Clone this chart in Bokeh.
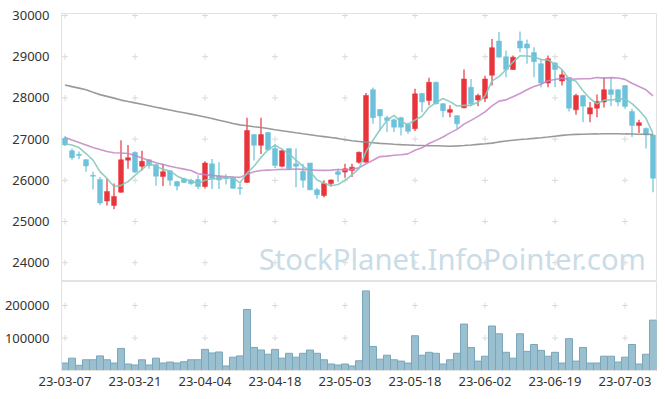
from bokeh.plotting import figure
from bokeh.layouts import column
from bokeh.models import FixedTicker, NumeralTickFormatter, Label, Range1d
from bokeh.embed import file_html
from bokeh.resources import INLINE

# ---------------- data ----------------
opens = [27020, 26720, 26630, 26500, 26120, 26020, 25500, 25390, 25710, 26490,
         26680, 26340, 26500, 26380, 26090, 26230, 25970, 26040, 26000, 26020,
         25850, 26400, 26100, 26080, 26080, 25820, 25950, 27110, 26850, 27160,
         26770, 26340, 26770, 26400, 26220, 26420, 25770, 25630, 25920, 26210,
         26200, 26240, 26440, 26440, 28200, 27720, 27520, 27470, 27520, 27360,
         27250, 28110, 27940, 28380, 27860, 27650, 27570, 27760, 28260, 27950,
         27990, 28550, 29380, 29000, 28690, 29380, 29310, 29100, 28830, 28360,
         28850, 28410, 28500, 27710, 28060, 27610, 27750, 27900, 28200, 28200,
         28300, 27670, 27330, 27260, 27100]
highs = [27070, 26770, 26700, 26520, 26210, 26080, 26050, 25920, 26970, 26860,
         26700, 26720, 26510, 26400, 26400, 26240, 25990, 26060, 26040, 26120,
         26460, 26520, 26440, 26150, 26090, 25920, 27520, 27120, 27520, 27170,
         26890, 26740, 26770, 26770, 26400, 26420, 25820, 26000, 26020, 26280,
         26400, 26400, 26700, 28120, 28250, 27730, 27570, 27500, 27540, 27400,
         28220, 28120, 28490, 28390, 27870, 27820, 27580, 28690, 28460, 28100,
         28540, 29430, 29600, 29150, 29030, 29610, 29420, 29230, 28950, 29030,
         28870, 28670, 28510, 28100, 28070, 27900, 28080, 28500, 28500, 28210,
         28310, 27740, 27470, 27280, 27110]
lows = [26830, 26500, 26520, 26210, 25780, 25400, 25390, 25300, 25700, 26280,
        26180, 26240, 26280, 25870, 25860, 25870, 25750, 25930, 25890, 25790,
        25800, 25790, 25790, 25900, 25790, 25650, 25940, 26480, 26640, 26720,
        26300, 26320, 26260, 25830, 25820, 25760, 25550, 25590, 25850, 25960,
        26060, 26080, 26400, 26430, 27370, 27210, 27170, 27170, 27090, 27130,
        27200, 27650, 27820, 27840, 27530, 27530, 27250, 27750, 27800, 27800,
        27900, 28300, 28980, 28500, 28680, 29110, 28830, 28500, 28260, 28260,
        28260, 28300, 27670, 27590, 27410, 27410, 27530, 27770, 27800, 27800,
        27740, 27050, 27150, 26770, 25710]
closes = [26860, 26550, 26600, 26350, 26100, 25450, 25730, 25610, 26500, 26550,
          26200, 26460, 26360, 26100, 26210, 26000, 25860, 25950, 25920, 25850,
          26420, 26040, 26010, 26040, 25810, 25800, 27210, 26850, 27110, 26740,
          26360, 26720, 26280, 26340, 26000, 25770, 25650, 25920, 26010, 26140,
          26280, 26320, 26680, 28060, 27520, 27560, 27450, 27290, 27290, 27190,
          28100, 27900, 28380, 27860, 27690, 27720, 27370, 28460, 27860, 28060,
          28460, 29220, 28990, 28690, 28990, 29210, 29210, 28880, 28360, 28950,
          28690, 28560, 27750, 28060, 27800, 27760, 27910, 28200, 28080, 27900,
          27790, 27330, 27400, 27100, 26050]
volumes = [23000, 38000, 16000, 33000, 33000, 45000, 33000, 23000, 68000, 20000,
           17000, 33000, 17000, 38000, 23000, 26000, 23000, 27000, 33000, 33000,
           65000, 54000, 57000, 14000, 41000, 45000, 188000, 71000, 63000, 50000,
           65000, 38000, 53000, 41000, 53000, 63000, 53000, 33000, 20000, 17000,
           20000, 14000, 30000, 245000, 74000, 35000, 47000, 33000, 29000, 23000,
           107000, 47000, 56000, 53000, 20000, 33000, 53000, 143000, 71000, 29000,
           44000, 137000, 113000, 56000, 38000, 113000, 59000, 80000, 62000, 44000,
           56000, 23000, 98000, 29000, 71000, 23000, 23000, 44000, 44000, 26000,
           41000, 80000, 20000, 50000, 155000]
ma5 = [26886, 26857, 26796, 26650, 26492, 26210, 26046, 25848, 25878, 25968,
       26118, 26264, 26414, 26334, 26266, 26226, 26106, 26024, 25988, 25916,
       26000, 26036, 26048, 26072, 26064, 25940, 26174, 26342, 26556, 26742,
       26854, 26756, 26642, 26488, 26340, 26222, 26008, 25936, 25870, 25898,
       26000, 26134, 26286, 26696, 26972, 27228, 27454, 27576, 27422, 27356,
       27464, 27554, 27772, 27886, 27986, 27910, 27804, 27820, 27820, 27894,
       28042, 28412, 28518, 28684, 28870, 29020, 29018, 28996, 28930, 28922,
       28818, 28688, 28462, 28402, 28172, 27986, 27856, 27946, 27950, 27970,
       27976, 27860, 27702, 27504, 27134]
ma20 = [27039, 26978, 26918, 26857, 26796, 26748, 26699, 26668, 26663, 26651,
        26602, 26542, 26481, 26425, 26384, 26340, 26304, 26272, 26238, 26160,
        26139, 26120, 26105, 26090, 26080, 26071, 26145, 26207, 26238, 26247,
        26255, 26268, 26264, 26276, 26266, 26254, 26244, 26242, 26247, 26261,
        26254, 26268, 26302, 26403, 26488, 26576, 26588, 26610, 26619, 26642,
        26729, 26788, 26893, 26969, 27053, 27151, 27237, 27364, 27456, 27552,
        27661, 27806, 27922, 27953, 28027, 28109, 28197, 28277, 28330, 28418,
        28448, 28481, 28449, 28459, 28465, 28467, 28494, 28481, 28492, 28484,
        28450, 28356, 28276, 28197, 28050]
ma60 = [28313, 28274, 28238, 28197, 28136, 28080, 28037, 27995, 27947, 27913,
        27879, 27845, 27811, 27774, 27740, 27707, 27670, 27639, 27607, 27573,
        27537, 27500, 27459, 27420, 27379, 27345, 27323, 27301, 27282, 27257,
        27228, 27204, 27180, 27153, 27129, 27107, 27083, 27061, 27039, 27017,
        26986, 26961, 26944, 26927, 26913, 26896, 26886, 26876, 26867, 26859,
        26850, 26845, 26840, 26838, 26833, 26828, 26835, 26845, 26857, 26872,
        26886, 26903, 26932, 26954, 26974, 26990, 27003, 27017, 27032, 27051,
        27071, 27090, 27107, 27114, 27119, 27124, 27126, 27129, 27129, 27129,
        27126, 27124, 27119, 27117, 27112]
date_labels = ["23-03-07", "23-03-21", "23-04-04", "23-04-18", "23-05-03",
               "23-05-18", "23-06-02", "23-06-19", "23-07-03"]
price_ticks = [24000, 25000, 26000, 27000, 28000, 29000, 30000]
volume_ticks = [100000, 200000]
watermark = "StockPlanet.InfoPointer.com"

# ---------------- styling ----------------
UP = "#e8353c"
DOWN = "#6cc2da"
FONT = "Noto Sans"
LABEL_COLOR = "#333333"
BORDER = "#e2e2e2"
CROSS = "#dadada"

n = len(closes)
idx = list(range(n))
x_tick_idx = list(range(0, n, 10))[:len(date_labels)]

xr = Range1d(-0.5, n - 0.5)

# ---------------- price figure ----------------
p1 = figure(width=661, height=281, x_range=xr, y_range=Range1d(23544, 30049),
            output_backend="svg", toolbar_location=None, x_axis_location=None,
            min_border_left=61, min_border_right=5, min_border_top=13, min_border_bottom=0)
p1.grid.visible = False
p1.outline_line_color = BORDER
p1.background_fill_color = "white"

ya = p1.yaxis[0]
ya.ticker = FixedTicker(ticks=price_ticks)
ya.formatter = NumeralTickFormatter(format="0")
ya.axis_line_color = BORDER
ya.major_tick_line_color = None
ya.minor_tick_line_color = None
ya.major_label_text_font = FONT
ya.major_label_text_font_size = "13px"
ya.major_label_text_color = LABEL_COLOR
ya.major_label_standoff = 6

# grid crosses
cx = [i for i in x_tick_idx for _ in price_ticks]
cy = [t for _ in x_tick_idx for t in price_ticks]
p1.scatter(cx, cy, marker="cross", size=6, line_color=CROSS, line_width=1)

wm = Label(x=83.0, y=24100, text=watermark, text_align="right", text_baseline="middle",
           text_font=FONT, text_font_size="29.3px", text_color="#c9dce7", level="underlay")
p1.add_layout(wm)

up_i = [i for i in idx if closes[i] >= opens[i]]
dn_i = [i for i in idx if closes[i] < opens[i]]

for sel, col in ((up_i, UP), (dn_i, DOWN)):
    p1.segment(x0=sel, x1=sel, y0=[lows[i] for i in sel], y1=[highs[i] for i in sel],
               line_color=col, line_width=1.2)
    p1.vbar(x=sel, width=0.7,
            top=[max(opens[i], closes[i]) for i in sel],
            bottom=[min(opens[i], closes[i]) for i in sel],
            fill_color=col, line_color=col, line_width=0.5)

p1.line(idx, ma60, line_color="#8f8f8f", line_width=1.6, line_alpha=0.9)
p1.line(idx, ma20, line_color="#c484c4", line_width=1.6, line_alpha=0.85)
p1.line(idx, ma5, line_color="#86c9bd", line_width=1.6, line_alpha=0.9)

# ---------------- volume figure ----------------
p2 = figure(width=661, height=116, x_range=xr, y_range=Range1d(0, 274000),
            output_backend="svg", toolbar_location=None,
            min_border_left=61, min_border_right=5, min_border_top=0, min_border_bottom=27)
p2.grid.visible = False
p2.outline_line_color = BORDER

ya2 = p2.yaxis[0]
ya2.ticker = FixedTicker(ticks=volume_ticks)
ya2.formatter = NumeralTickFormatter(format="0")
ya2.axis_line_color = BORDER
ya2.major_tick_line_color = None
ya2.minor_tick_line_color = None
ya2.major_label_text_font = FONT
ya2.major_label_text_font_size = "13px"
ya2.major_label_text_color = LABEL_COLOR
ya2.major_label_standoff = 6

xa = p2.xaxis[0]
xa.ticker = FixedTicker(ticks=x_tick_idx)
xa.major_label_overrides = {i: lab for i, lab in zip(x_tick_idx, date_labels)}
xa.axis_line_color = BORDER
xa.major_tick_line_color = None
xa.minor_tick_line_color = None
xa.major_label_text_font = FONT
xa.major_label_text_font_size = "13px"
xa.major_label_text_color = LABEL_COLOR
xa.major_label_standoff = 0

cx2 = [i for i in x_tick_idx for _ in volume_ticks]
cy2 = [t for _ in x_tick_idx for t in volume_ticks]
p2.scatter(cx2, cy2, marker="cross", size=6, line_color=CROSS, line_width=1)

p2.vbar(x=idx, top=volumes, bottom=0, width=1.0, fill_color="#95bdcd", fill_alpha=0.95,
        line_color="#79a6ba", line_width=1)

layout = column(p1, p2, spacing=0)

open("out.html", "w").write(file_html(layout, INLINE))
